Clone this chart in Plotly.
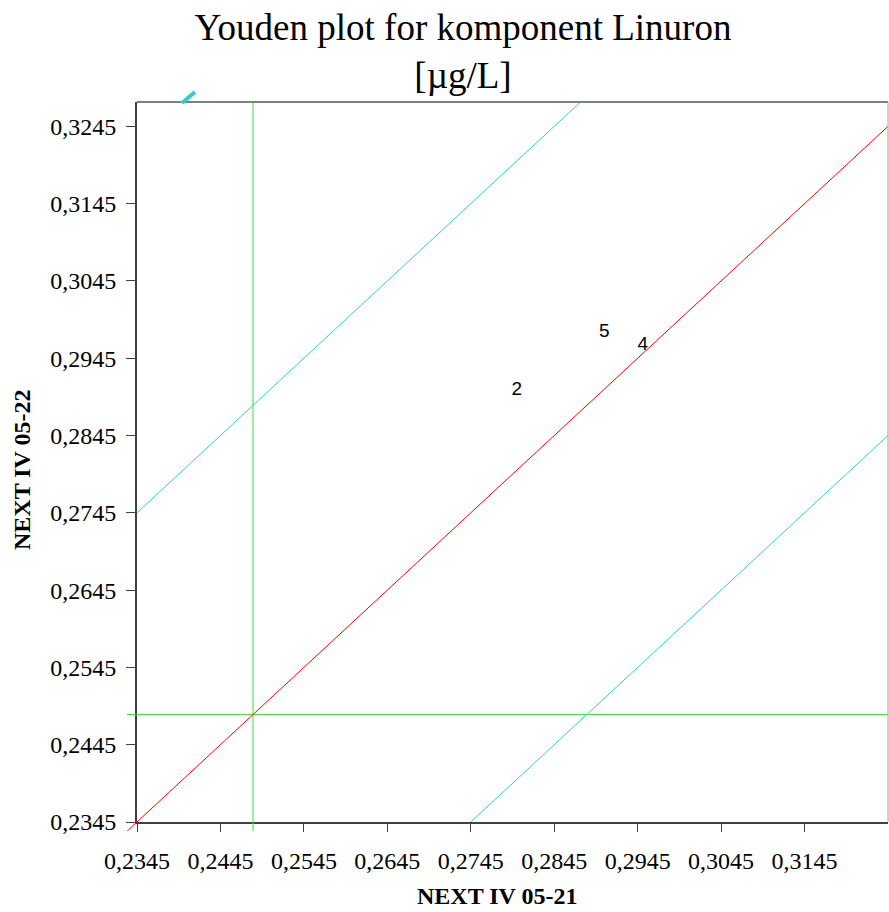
import plotly.graph_objects as go

# ---- data ----
lab_ids = ["2", "5", "4"]
x_values = [0.2800, 0.2905, 0.2951]   # NEXT IV 05-21
y_values = [0.2903, 0.2979, 0.2962]   # NEXT IV 05-22
mean_x = 0.2484
mean_y = 0.2484
limit_offset = 0.04

x_ticks = [0.2345, 0.2445, 0.2545, 0.2645, 0.2745, 0.2845, 0.2945, 0.3045, 0.3145]
x_ticktext = ["0,2345", "0,2445", "0,2545", "0,2645", "0,2745", "0,2845", "0,2945", "0,3045", "0,3145"]
y_ticks = [0.2345, 0.2445, 0.2545, 0.2645, 0.2745, 0.2845, 0.2945, 0.3045, 0.3145, 0.3245]
y_ticktext = ["0,2345", "0,2445", "0,2545", "0,2645", "0,2745", "0,2845", "0,2945", "0,3045", "0,3145", "0,3245"]

x_range = [0.2345, 0.3245]
y_range = [0.2345, 0.32765]

# ---- layout geometry ----
W, H = 889, 912
ml, mr, mt, mb = 127, 1, 102, 81
ext_x, ext_y = 10, 9
pw = W - ml - mr
ph = H - mt - mb
xd0 = ext_x / pw
yd0 = ext_y / ph
px_per_x = (pw - ext_x) / (x_range[1] - x_range[0])
px_per_y = (ph - ext_y) / (y_range[1] - y_range[0])
x2_range = [x_range[0] - ext_x / px_per_x, x_range[1]]
y2_range = [y_range[0] - ext_y / px_per_y, y_range[1]]

serif = "Liberation Serif, Times New Roman, serif"
sans = "Liberation Sans, Arial, sans-serif"

fig = go.Figure()

# mean lines and diagonal on extended overlay axes
fig.add_trace(go.Scatter(x=[mean_x, mean_x], y=[y2_range[0], y2_range[1]],
                         mode="lines", line=dict(color="#44dd44", width=1),
                         xaxis="x2", yaxis="y2", showlegend=False, hoverinfo="skip"))
fig.add_trace(go.Scatter(x=[x2_range[0], x2_range[1]], y=[mean_y, mean_y],
                         mode="lines", line=dict(color="#44dd44", width=1),
                         xaxis="x2", yaxis="y2", showlegend=False, hoverinfo="skip"))
fig.add_trace(go.Scatter(x=[x2_range[0], x_range[1]], y=[x2_range[0], x_range[1]],
                         mode="lines", line=dict(color="#ff0000", width=1),
                         xaxis="x2", yaxis="y2", showlegend=False, hoverinfo="skip"))

# limit lines (cyan)
fig.add_trace(go.Scatter(x=[x_range[0], x_range[1]],
                         y=[x_range[0] + limit_offset, x_range[1] + limit_offset],
                         mode="lines", line=dict(color="#33cccc", width=1),
                         showlegend=False, hoverinfo="skip"))
fig.add_trace(go.Scatter(x=[x_range[0], x_range[1]],
                         y=[x_range[0] - limit_offset, x_range[1] - limit_offset],
                         mode="lines", line=dict(color="#33cccc", width=1),
                         showlegend=False, hoverinfo="skip"))

# lab labels
fig.add_trace(go.Scatter(x=x_values, y=y_values, text=lab_ids, mode="text",
                         textposition="middle center",
                         textfont=dict(family=sans, size=19, color="#000000"),
                         cliponaxis=False, showlegend=False))

fig.update_layout(
    width=W, height=H,
    margin=dict(l=ml, r=mr, t=mt, b=mb, pad=0),
    paper_bgcolor="white", plot_bgcolor="rgba(0,0,0,0)",
    title=dict(text="Youden plot for komponent Linuron<br>[µg/L]",
               font=dict(family=serif, size=37, color="#000000"),
               x=463 / W, xref="container", xanchor="center",
               y=1 - 40 / H, yref="container", yanchor="top"),
    xaxis=dict(domain=[xd0, 1], range=x_range, tickvals=x_ticks, ticktext=x_ticktext,
               showgrid=False, zeroline=False, showline=True, linecolor="#404040", linewidth=2,
               ticks="outside", ticklen=8, tickwidth=1, tickcolor="#404040",
               ticklabelstandoff=8,
               tickfont=dict(family=serif, size=24, color="#000000"),
               anchor="y", fixedrange=True),
    yaxis=dict(domain=[yd0, 1], range=y_range, tickvals=y_ticks, ticktext=y_ticktext,
               showgrid=False, zeroline=False, showline=True, linecolor="#404040", linewidth=2,
               ticks="outside", ticklen=9, tickwidth=1, tickcolor="#404040",
               ticklabelstandoff=5,
               tickfont=dict(family=serif, size=24, color="#000000"),
               anchor="x", fixedrange=True),
    xaxis2=dict(domain=[0, 1], range=x2_range, visible=False, anchor="y2"),
    yaxis2=dict(domain=[0, 1], range=y2_range, visible=False, anchor="x2"),
    shapes=[
        dict(type="line", xref="paper", yref="paper", x0=xd0, x1=1, y0=1, y1=1,
             line=dict(color="#808080", width=2)),
        dict(type="line", xref="paper", yref="paper", x0=1, x1=1, y0=yd0, y1=1,
             line=dict(color="#a0a0a0", width=1)),
        dict(type="line", xref="paper", yref="paper",
             x0=(182 - ml) / pw, x1=(195 - ml) / pw, y0=1 - 1 / ph, y1=1 + 10 / ph,
             line=dict(color="#33cccc", width=4)),
    ],
    annotations=[
        dict(text="<b>NEXT IV 05-21</b>", xref="paper", yref="paper",
             x=(497 - ml) / pw, y=-(896 - (H - mb)) / ph, xanchor="center", yanchor="middle",
             showarrow=False, font=dict(family=serif, size=24, color="#000000")),
        dict(text="<b>NEXT IV 05-22</b>", xref="paper", yref="paper",
             x=-(ml - 22) / pw, y=((H - mb) - 470) / ph, xanchor="center", yanchor="middle",
             textangle=-90, showarrow=False, font=dict(family=serif, size=24, color="#000000")),
    ],
)

fig.write_html("out.html")
